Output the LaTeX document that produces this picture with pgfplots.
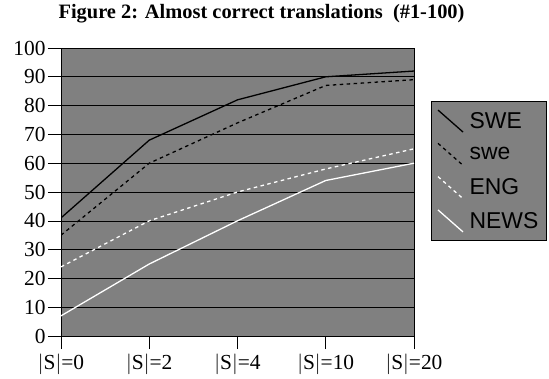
\documentclass[border=0pt]{standalone}
\usepackage{pgfplots}
\pgfplotsset{compat=1.18}
\usepackage{fontspec}
\setmainfont{Liberation Serif}
\newfontfamily\legfont{Liberation Sans}
\definecolor{bg}{RGB}{128,128,128}
\begin{document}
\begin{tikzpicture}[x=1bp,y=1bp]
\useasboundingbox (-61,-42) rectangle (488,336);
\begin{axis}[
  at={(0,0)}, anchor=south west,
  scale only axis, width=353bp, height=288bp,
  xmin=0, xmax=4, ymin=0, ymax=100,
  xtick={0,1,2,3,4},
  xticklabels={$|$S$|$=0,$|$S$|$=2,$|$S$|$=4,$|$S$|$=10,$|$S$|$=20},
  ytick={0,10,...,100},
  ymajorgrids, grid style={black, line width=0.6pt},
  axis background/.style={fill=bg},
  axis line style={black, line width=0.8pt},
  tick align=outside, tick pos=left,
  major tick length=13bp,
  tick style={black, line width=0.6pt},
  ticklabel style={font=\fontsize{21.5}{24}\selectfont},
  /pgf/number format/assume math mode=true,
  xticklabel style={yshift=-1bp},
  yticklabel style={xshift=1bp},
  title={\fontsize{20.5}{24}\selectfont\bfseries Figure 2: Almost correct translations\ \ (\#1-100)},
  title style={at={(0.5,1)}, anchor=base, yshift=24bp, xshift=24bp, inner sep=0pt},
  legend image code/.code={\draw[#1] (0bp,11bp) -- (25bp,-11bp);},
  legend style={at={(1.048,0.816)}, anchor=north west, fill=bg, draw=black, line width=0.8pt,
    font=\legfont\fontsize{23}{26}\selectfont, inner xsep=6bp, inner ysep=8bp,
    row sep=10bp, cells={anchor=west},
    /tikz/every odd column/.append style={column sep=4bp}},
  legend cell align=left,
]
\addplot[black, line width=1.3pt] coordinates {(0,41) (1,68) (2,82) (3,90) (4,92)};
\addplot[black, line width=1.3pt, dash pattern=on 3.5pt off 3.5pt] coordinates {(0,35) (1,60) (2,74) (3,87) (4,89)};
\addplot[white, line width=1.3pt, dash pattern=on 3.5pt off 3.5pt] coordinates {(0,24) (1,40) (2,50) (3,58) (4,65)};
\addplot[white, line width=1.3pt] coordinates {(0,7) (1,25) (2,40) (3,54) (4,60)};
\legend{SWE,swe,ENG,NEWS}
\end{axis}
\end{tikzpicture}
\end{document}
